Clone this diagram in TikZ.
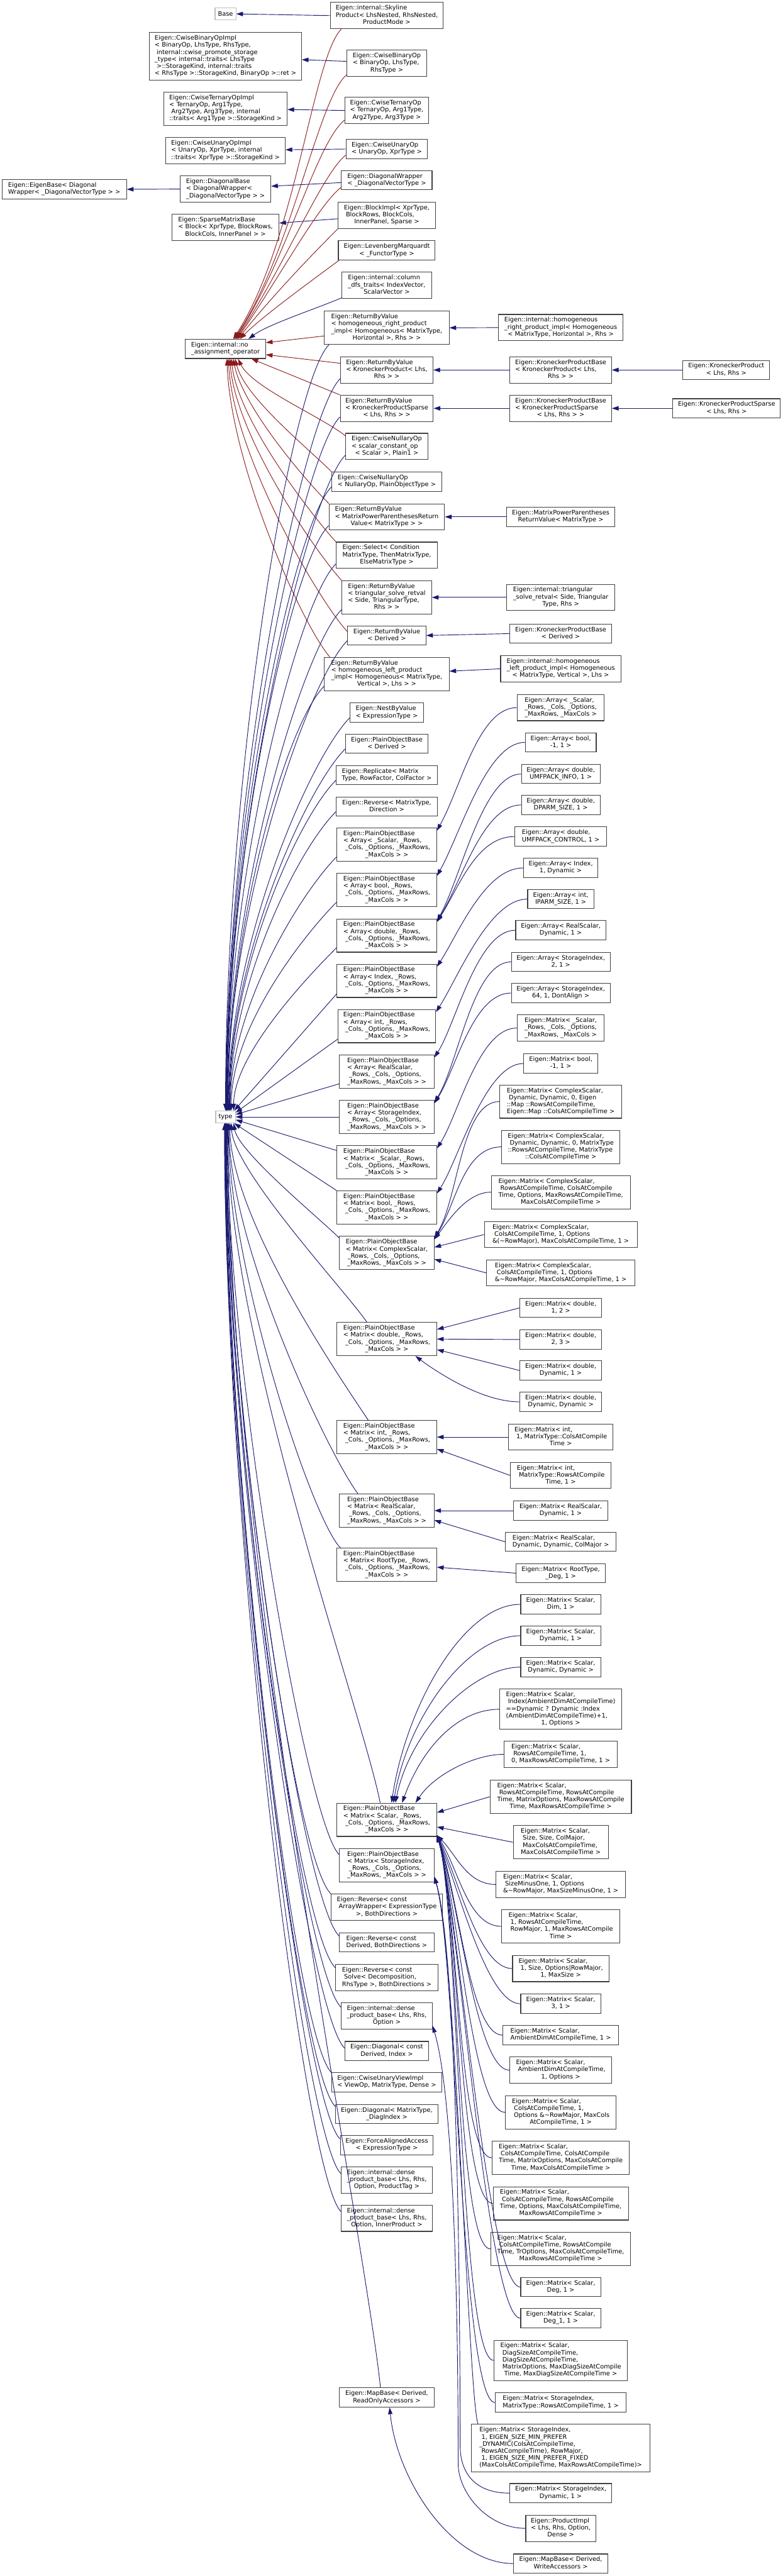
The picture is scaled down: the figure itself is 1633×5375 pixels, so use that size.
\documentclass[tikz,border=0pt]{standalone}
\usepackage{fontspec}
\setmainfont{DejaVu Sans}
\usetikzlibrary{arrows.meta,calc}
\definecolor{eblue}{HTML}{191970}
\definecolor{ered}{HTML}{8B1A1A}
\newcommand\lastc[1]{\multicolumn{1}{@{}c@{}}{#1}}
\newcommand\tbx[1]{\begin{tabular}{@{}l@{}}#1\end{tabular}}
\newcommand\pobA[1]{\tbx{Eigen::PlainObjectBase\\< #1, \_Rows,\\\ \_Cols, \_Options, \_MaxRows,\\\lastc{\_MaxCols > >}}}
\newcommand\pobB[1]{\tbx{Eigen::PlainObjectBase\\< #1,\\\ \_Rows, \_Cols, \_Options,\\\lastc{\_MaxRows, \_MaxCols > >}}}
\newcommand\TUp[4]{\draw[bl] (#1) .. controls +(-#2,#2) and +(0,-#3) .. ($(type.north)+(#4,0)$);}
\newcommand\TDn[4]{\draw[bl] (#1) .. controls +(-#2,-#2) and +(0,#3) .. ($(type.south)+(#4,0)$);}
\newcommand\CV[4]{\draw[bl] (#1) .. controls +(#3) and +(#4) .. (#2);}
\tikzset{
 box/.style={draw=black!75, line width=0.7pt, fill=white, inner xsep=3pt, inner ysep=2.65pt,
   font=\fontsize{6.45pt}{7.35pt}\selectfont},
 gbox/.style={draw=black!25, line width=0.7pt, fill=white, inner xsep=3pt, inner ysep=2.65pt,
   minimum height=12.5pt, font=\fontsize{6.45pt}{7.35pt}\selectfont},
 bw/.style={minimum width=#1*0.5pt},
 bl/.style={draw=eblue, line width=0.6pt, -{Triangle[length=7pt,width=4.6pt]}},
 rd/.style={draw=ered, line width=0.6pt, -{Triangle[length=7pt,width=4.6pt]}},
}
\begin{document}
\begin{tikzpicture}[x=0.5pt,y=-0.5pt]
\fill[white] (0,0) rectangle (1633,5375);
\useasboundingbox (0,0) rectangle (1633,5375);
\coordinate (lane) at (960,0);
% ---------- left column
\node[gbox] (base) at (470.5,29) {Base};
\node[box,bw=317] (cbimpl) at (470.5,117.5) {\tbx{Eigen::CwiseBinaryOpImpl\\< BinaryOp, LhsType, RhsType,\\\ internal::cwise\_promote\_storage\\\_type< internal::traits< LhsType\\\ >::StorageKind, internal::traits\\\lastc{< RhsType >::StorageKind, BinaryOp >::ret >}}};
\node[box,bw=257] (ctimpl) at (470.5,226.5) {\tbx{Eigen::CwiseTernaryOpImpl\\< TernaryOp, Arg1Type,\\\ Arg2Type, Arg3Type, internal\\\lastc{::traits< Arg1Type >::StorageKind >}}};
\node[box,bw=249] (cuimpl) at (470.5,314.5) {\tbx{Eigen::CwiseUnaryOpImpl\\< UnaryOp, XprType, internal\\\lastc{::traits< XprType >::StorageKind >}}};
\node[box,bw=260] (eigenbase) at (134,395) {\tbx{Eigen::EigenBase< Diagonal\\\lastc{Wrapper< \_DiagonalVectorType > >}}};
\node[box,bw=189] (diagbase) at (470.5,394.5) {\tbx{Eigen::DiagonalBase\\< DiagonalWrapper<\\\lastc{\_DiagonalVectorType > >}}};
\node[box,bw=223] (sparsebase) at (470.5,474.5) {\tbx{Eigen::SparseMatrixBase\\< Block< XprType, BlockRows,\\\lastc{BlockCols, InnerPanel > >}}};
\node[box,bw=167] (noassign) at (470.5,728) {\tbx{Eigen::internal::no\\\lastc{\_assignment\_operator}}};
\node[gbox] (type) at (470.5,2330.5) {type};
% ---------- middle column
\node[box,bw=236] (skyline) at (807,32.5) {\tbx{Eigen::internal::Skyline\\Product< LhsNested, RhsNested,\\\lastc{ProductMode >}}};
\node[box,bw=166] (cbop) at (807,132) {\tbx{Eigen::CwiseBinaryOp\\< BinaryOp, LhsType,\\\lastc{RhsType >}}};
\node[box,bw=175] (ctop) at (807,230.5) {\tbx{Eigen::CwiseTernaryOp\\< TernaryOp, Arg1Type,\\\lastc{Arg2Type, Arg3Type >}}};
\node[box,bw=170] (cuop) at (807,311) {\tbx{Eigen::CwiseUnaryOp\\\lastc{< UnaryOp, XprType >}}};
\node[box,bw=189] (diagwrap) at (807,376) {\tbx{Eigen::DiagonalWrapper\\\lastc{< \_DiagonalVectorType >}}};
\node[box,bw=203] (blockimpl) at (807,449.5) {\tbx{Eigen::BlockImpl< XprType,\\\ BlockRows, BlockCols,\\\lastc{InnerPanel, Sparse >}}};
\node[box,bw=202] (lm) at (807,522.5) {\tbx{Eigen::LevenbergMarquardt\\\lastc{< \_FunctorType >}}};
\node[box,bw=187] (coldfs) at (807,595.5) {\tbx{Eigen::internal::column\\\_dfs\_traits< IndexVector,\\\lastc{ScalarVector >}}};
\node[box,bw=260] (rbvhr) at (807,684) {\tbx{Eigen::ReturnByValue\\< homogeneous\_right\_product\\\_impl< Homogeneous< MatrixType,\\\lastc{Horizontal >, Rhs > >}}};
\node[box,bw=193] (rbvkp) at (807,772) {\tbx{Eigen::ReturnByValue\\< KroneckerProduct< Lhs,\\\lastc{Rhs > >}}};
\node[box,bw=194] (rbvkps) at (807,852) {\tbx{Eigen::ReturnByValue\\< KroneckerProductSparse\\\lastc{< Lhs, Rhs > >}}};
\node[box,bw=171] (cnos) at (807,931.5) {\tbx{Eigen::CwiseNullaryOp\\< scalar\_constant\_op\\\lastc{< Scalar >, Plain1 >}}};
\node[box,bw=229] (cnon) at (807,1005) {\tbx{Eigen::CwiseNullaryOp\\\lastc{< NullaryOp, PlainObjectType >}}};
\node[box,bw=241] (rbvmp) at (807,1078.5) {\tbx{Eigen::ReturnByValue\\< MatrixPowerParenthesesReturn\\\lastc{Value< MatrixType > >}}};
\node[box,bw=211] (select) at (807,1158.5) {\tbx{Eigen::Select< Condition\\MatrixType, ThenMatrixType,\\\lastc{ElseMatrixType >}}};
\node[box,bw=187] (rbvtri) at (807,1246.5) {\tbx{Eigen::ReturnByValue\\< triangular\_solve\_retval\\< Side, TriangularType,\\\lastc{Rhs > >}}};
\node[box,bw=163] (rbvd) at (807,1326) {\tbx{Eigen::ReturnByValue\\\lastc{< Derived >}}};
\node[box,bw=260] (rbvhl) at (807,1406.5) {\tbx{Eigen::ReturnByValue\\< homogeneous\_left\_product\\\_impl< Homogeneous< MatrixType,\\\lastc{Vertical >, Lhs > >}}};
\node[box,bw=153] (nest) at (807,1487) {\tbx{Eigen::NestByValue\\\lastc{< ExpressionType >}}};
\node[box,bw=172] (pobd) at (807,1552) {\tbx{Eigen::PlainObjectBase\\\lastc{< Derived >}}};
\node[box,bw=211] (replicate) at (807,1617.5) {\tbx{Eigen::Replicate< Matrix\\\lastc{Type, RowFactor, ColFactor >}}};
\node[box,bw=211] (reverse) at (807,1683) {\tbx{Eigen::Reverse< MatrixType,\\\lastc{Direction >}}};
\node[box,bw=208] (poba1) at (807,1762.5) {\pobA{Array< \_Scalar}};
\node[box,bw=208] (poba2) at (807,1857) {\pobA{Array< bool}};
\node[box,bw=208] (poba3) at (807,1952) {\pobA{Array< double}};
\node[box,bw=208] (poba4) at (807,2046.5) {\pobA{Array< Index}};
\node[box,bw=204] (poba5) at (807,2141) {\pobA{Array< int}};
\node[box,bw=197] (poba6) at (807,2236) {\pobB{Array< RealScalar}};
\node[box,bw=197] (poba7) at (807,2330.5) {\pobB{Array< StorageIndex}};
\node[box,bw=208] (pobm1) at (807,2425.5) {\pobA{Matrix< \_Scalar}};
\node[box,bw=208] (pobm2) at (807,2519.5) {\pobA{Matrix< bool}};
\node[box,bw=197] (pobm3) at (807,2614.5) {\pobB{Matrix< ComplexScalar}};
\node[box,bw=208] (pobm4) at (807,2794) {\pobA{Matrix< double}};
\node[box,bw=208] (pobm5) at (807,2998.5) {\pobA{Matrix< int}};
\node[box,bw=197] (pobm6) at (807,3152) {\pobB{Matrix< RealScalar}};
\node[box,bw=208] (pobm7) at (807,3265) {\pobA{Matrix< RootType}};
\node[box,bw=208] (pobm8) at (807,3797) {\pobA{Matrix< Scalar}};
\node[box,bw=197] (pobm9) at (807,3892) {\pobB{Matrix< StorageIndex}};
\node[box,bw=232] (revaw) at (807,3979.5) {\tbx{Eigen::Reverse< const\\\ ArrayWrapper< ExpressionType\\\lastc{>, BothDirections >}}};
\node[box,bw=197] (revd) at (807,4053) {\tbx{Eigen::Reverse< const\\\lastc{Derived, BothDirections >}}};
\node[box,bw=214] (revs) at (807,4126.5) {\tbx{Eigen::Reverse< const\\\ Solve< Decomposition,\\\lastc{RhsType >, BothDirections >}}};
\node[box,bw=190] (dpb1) at (807,4206) {\tbx{Eigen::internal::dense\\\_product\_base< Lhs, Rhs,\\\lastc{Option >}}};
\node[box,bw=175] (diag1) at (807,4279.5) {\tbx{Eigen::Diagonal< const\\\lastc{Derived, Index >}}};
\node[box,bw=230] (cuview) at (807,4345) {\tbx{Eigen::CwiseUnaryViewImpl\\\lastc{< ViewOp, MatrixType, Dense >}}};
\node[box,bw=214] (diag2) at (807,4411) {\tbx{Eigen::Diagonal< MatrixType,\\\lastc{\_DiagIndex >}}};
\node[box,bw=194] (faa) at (807,4476) {\tbx{Eigen::ForceAlignedAccess\\\lastc{< ExpressionType >}}};
\node[box,bw=190] (dpb2) at (807,4548.5) {\tbx{Eigen::internal::dense\\\_product\_base< Lhs, Rhs,\\\lastc{Option, ProductTag >}}};
\node[box,bw=190] (dpb3) at (807,4628.5) {\tbx{Eigen::internal::dense\\\_product\_base< Lhs, Rhs,\\\lastc{Option, InnerProduct >}}};
\node[box,bw=197] (mapro) at (807,5002.5) {\tbx{Eigen::MapBase< Derived,\\\lastc{ReadOnlyAccessors >}}};
% ---------- right columns
\node[box,bw=259] (hrpi) at (1170,683.5) {\tbx{Eigen::internal::homogeneous\\\_right\_product\_impl< Homogeneous\\\lastc{< MatrixType, Horizontal >, Rhs >}}};
\node[box,bw=212] (kpbkp) at (1170,772) {\tbx{Eigen::KroneckerProductBase\\< KroneckerProduct< Lhs,\\\lastc{Rhs > >}}};
\node[box,bw=181] (kp) at (1515.5,772) {\tbx{Eigen::KroneckerProduct\\\lastc{< Lhs, Rhs >}}};
\node[box,bw=212] (kpbkps) at (1170,852) {\tbx{Eigen::KroneckerProductBase\\< KroneckerProductSparse\\\lastc{< Lhs, Rhs > >}}};
\node[box,bw=224] (kps) at (1516,852) {\tbx{Eigen::KroneckerProductSparse\\\lastc{< Lhs, Rhs >}}};
\node[box,bw=226] (mpprv) at (1170,1078.5) {\tbx{Eigen::MatrixPowerParentheses\\\lastc{ReturnValue< MatrixType >}}};
\node[box,bw=225] (tsr) at (1170,1246.5) {\tbx{Eigen::internal::triangular\\\_solve\_retval< Side, Triangular\\\lastc{Type, Rhs >}}};
\node[box,bw=212] (kpbd) at (1170,1322) {\tbx{Eigen::KroneckerProductBase\\\lastc{< Derived >}}};
\node[box,bw=251] (hlpi) at (1170,1395.5) {\tbx{Eigen::internal::homogeneous\\\_left\_product\_impl< Homogeneous\\\lastc{< MatrixType, Vertical >, Lhs >}}};
\node[box,bw=182] (arr1) at (1170,1476.5) {\tbx{Eigen::Array< \_Scalar,\\\_Rows, \_Cols, \_Options,\\\lastc{\_MaxRows, \_MaxCols >}}};
\node[box,bw=148] (arr2) at (1170,1549) {\tbx{Eigen::Array< bool,\\\lastc{-1, 1 >}}};
\node[box,bw=164] (arr3) at (1170,1615) {\tbx{Eigen::Array< double,\\\lastc{UMFPACK\_INFO, 1 >}}};
\node[box,bw=164] (arr4) at (1170,1679.5) {\tbx{Eigen::Array< double,\\\lastc{DPARM\_SIZE, 1 >}}};
\node[box,bw=192] (arr5) at (1170,1745.5) {\tbx{Eigen::Array< double,\\\lastc{UMFPACK\_CONTROL, 1 >}}};
\node[box,bw=155] (arr6) at (1170,1811) {\tbx{Eigen::Array< Index,\\\lastc{1, Dynamic >}}};
\node[box,bw=138] (arr7) at (1170,1876) {\tbx{Eigen::Array< int,\\\lastc{IPARM\_SIZE, 1 >}}};
\node[box,bw=188] (arr8) at (1170,1941) {\tbx{Eigen::Array< RealScalar,\\\lastc{Dynamic, 1 >}}};
\node[box,bw=206] (arr9) at (1170,2007) {\tbx{Eigen::Array< StorageIndex,\\\lastc{2, 1 >}}};
\node[box,bw=206] (arr10) at (1170,2072) {\tbx{Eigen::Array< StorageIndex,\\\lastc{64, 1, DontAlign >}}};
\node[box,bw=182] (mat1) at (1170,2145) {\tbx{Eigen::Matrix< \_Scalar,\\\_Rows, \_Cols, \_Options,\\\lastc{\_MaxRows, \_MaxCols >}}};
\node[box,bw=154] (mat2) at (1170,2219) {\tbx{Eigen::Matrix< bool,\\\lastc{-1, 1 >}}};
\node[box,bw=255] (mat3) at (1170,2298.5) {\tbx{Eigen::Matrix< ComplexScalar,\\\ Dynamic, Dynamic, 0, Eigen\\::Map ::RowsAtCompileTime,\\\lastc{Eigen::Map ::ColsAtCompileTime >}}};
\node[box,bw=246] (mat4) at (1170,2393) {\tbx{Eigen::Matrix< ComplexScalar,\\\ Dynamic, Dynamic, 0, MatrixType\\::RowsAtCompileTime, MatrixType\\\lastc{::ColsAtCompileTime >}}};
\node[box,bw=290] (mat5) at (1170,2487.5) {\tbx{Eigen::Matrix< ComplexScalar,\\\ RowsAtCompileTime, ColsAtCompile\\Time, Options, MaxRowsAtCompileTime,\\\lastc{MaxColsAtCompileTime >}}};
\node[box,bw=319] (mat6) at (1170,2576) {\tbx{Eigen::Matrix< ComplexScalar,\\\ ColsAtCompileTime, 1, Options\\\lastc{\&(\textasciitilde RowMajor), MaxColsAtCompileTime, 1 >}}};
\node[box,bw=309] (mat7) at (1170,2656) {\tbx{Eigen::Matrix< ComplexScalar,\\\ ColsAtCompileTime, 1, Options\\\lastc{\&\textasciitilde RowMajor, MaxColsAtCompileTime, 1 >}}};
\node[box,bw=171] (mat8) at (1170,2729) {\tbx{Eigen::Matrix< double,\\\lastc{1, 2 >}}};
\node[box,bw=171] (mat9) at (1170,2795) {\tbx{Eigen::Matrix< double,\\\lastc{2, 3 >}}};
\node[box,bw=171] (mat10) at (1170,2859.5) {\tbx{Eigen::Matrix< double,\\\lastc{Dynamic, 1 >}}};
\node[box,bw=171] (mat11) at (1170,2925) {\tbx{Eigen::Matrix< double,\\\lastc{Dynamic, Dynamic >}}};
\node[box,bw=218] (mat12) at (1170,2998.5) {\tbx{Eigen::Matrix< int,\\\ 1, MatrixType::ColsAtCompile\\\lastc{Time >}}};
\node[box,bw=210] (mat13) at (1170,3078.5) {\tbx{Eigen::Matrix< int,\\\ MatrixType::RowsAtCompile\\\lastc{Time, 1 >}}};
\node[box,bw=196] (mat14) at (1170,3152) {\tbx{Eigen::Matrix< RealScalar,\\\lastc{Dynamic, 1 >}}};
\node[box,bw=231] (mat15) at (1170,3217) {\tbx{Eigen::Matrix< RealScalar,\\\lastc{Dynamic, Dynamic, ColMajor >}}};
\node[box,bw=186] (mat16) at (1170,3282.5) {\tbx{Eigen::Matrix< RootType,\\\lastc{\_Deg, 1 >}}};
\node[box,bw=167] (mat17) at (1170,3347.5) {\tbx{Eigen::Matrix< Scalar,\\\lastc{Dim, 1 >}}};
\node[box,bw=167] (mat18) at (1170,3413) {\tbx{Eigen::Matrix< Scalar,\\\lastc{Dynamic, 1 >}}};
\node[box,bw=167] (mat19) at (1170,3478.5) {\tbx{Eigen::Matrix< Scalar,\\\lastc{Dynamic, Dynamic >}}};
\node[box,bw=255] (mat20) at (1170,3566.5) {\tbx{Eigen::Matrix< Scalar,\\\ Index(AmbientDimAtCompileTime)\\==Dynamic ? Dynamic :Index\\(AmbientDimAtCompileTime)+1,\\\lastc{1, Options >}}};
\node[box,bw=237] (mat21) at (1170,3660.5) {\tbx{Eigen::Matrix< Scalar,\\\ RowsAtCompileTime, 1,\\\lastc{0, MaxRowsAtCompileTime, 1 >}}};
\node[box,bw=295] (mat22) at (1170,3749) {\tbx{Eigen::Matrix< Scalar,\\\ RowsAtCompileTime, RowsAtCompile\\Time, MatrixOptions, MaxRowsAtCompile\\\lastc{Time, MaxRowsAtCompileTime >}}};
\node[box,bw=198] (mat23) at (1170,3844) {\tbx{Eigen::Matrix< Scalar,\\\ Size, Size, ColMajor,\\\ MaxColsAtCompileTime,\\\lastc{MaxColsAtCompileTime >}}};
\node[box,bw=270] (mat24) at (1170,3932) {\tbx{Eigen::Matrix< Scalar,\\\ SizeMinusOne, 1, Options\\\lastc{\&\textasciitilde RowMajor, MaxSizeMinusOne, 1 >}}};
\node[box,bw=246] (mat25) at (1170,4019.5) {\tbx{Eigen::Matrix< Scalar,\\\ 1, RowsAtCompileTime,\\\ RowMajor, 1, MaxRowsAtCompile\\\lastc{Time >}}};
\node[box,bw=201] (mat26) at (1170,4107.5) {\tbx{Eigen::Matrix< Scalar,\\\ 1, Size, Options|RowMajor,\\\lastc{1, MaxSize >}}};
\node[box,bw=167] (mat27) at (1170,4181) {\tbx{Eigen::Matrix< Scalar,\\\lastc{3, 1 >}}};
\node[box,bw=241] (mat28) at (1170,4246.5) {\tbx{Eigen::Matrix< Scalar,\\\lastc{AmbientDimAtCompileTime, 1 >}}};
\node[box,bw=213] (mat29) at (1170,4319.5) {\tbx{Eigen::Matrix< Scalar,\\\ AmbientDimAtCompileTime,\\\lastc{1, Options >}}};
\node[box,bw=231] (mat30) at (1170,4407.5) {\tbx{Eigen::Matrix< Scalar,\\\ ColsAtCompileTime, 1,\\\ Options \&\textasciitilde RowMajor, MaxCols\\\lastc{AtCompileTime, 1 >}}};
\node[box,bw=286] (mat31) at (1170,4502.5) {\tbx{Eigen::Matrix< Scalar,\\\ ColsAtCompileTime, ColsAtCompile\\Time, MatrixOptions, MaxColsAtCompile\\\lastc{Time, MaxColsAtCompileTime >}}};
\node[box,bw=282] (mat32) at (1170,4597.5) {\tbx{Eigen::Matrix< Scalar,\\\ ColsAtCompileTime, RowsAtCompile\\Time, Options, MaxColsAtCompileTime,\\\lastc{MaxRowsAtCompileTime >}}};
\node[box,bw=292] (mat33) at (1170,4692.5) {\tbx{Eigen::Matrix< Scalar,\\\ ColsAtCompileTime, RowsAtCompile\\Time, TrOptions, MaxColsAtCompileTime,\\\lastc{MaxRowsAtCompileTime >}}};
\node[box,bw=167] (mat34) at (1170,4772) {\tbx{Eigen::Matrix< Scalar,\\\lastc{Deg, 1 >}}};
\node[box,bw=167] (mat35) at (1170,4837) {\tbx{Eigen::Matrix< Scalar,\\\lastc{Deg\_1, 1 >}}};
\node[box,bw=279] (mat36) at (1170,4925) {\tbx{Eigen::Matrix< Scalar,\\\ DiagSizeAtCompileTime,\\\ DiagSizeAtCompileTime,\\\ MatrixOptions, MaxDiagSizeAtCompile\\\lastc{Time, MaxDiagSizeAtCompileTime >}}};
\node[box,bw=273] (mat37) at (1170,5013) {\tbx{Eigen::Matrix< StorageIndex,\\\lastc{MatrixType::RowsAtCompileTime, 1 >}}};
\node[box,bw=372] (mat38) at (1170,5108) {\tbx{Eigen::Matrix< StorageIndex,\\\ 1, EIGEN\_SIZE\_MIN\_PREFER\\\_DYNAMIC(ColsAtCompileTime,\\\ RowsAtCompileTime), RowMajor,\\\ 1, EIGEN\_SIZE\_MIN\_PREFER\_FIXED\\\lastc{(MaxColsAtCompileTime, MaxRowsAtCompileTime)>}}};
\node[box,bw=213] (mat39) at (1170,5202) {\tbx{Eigen::Matrix< StorageIndex,\\\lastc{Dynamic, 1 >}}};
\node[box,bw=146] (prodimpl) at (1170,5275.5) {\tbx{Eigen::ProductImpl\\< Lhs, Rhs, Option,\\\lastc{Dense >}}};
\node[box,bw=196] (mapw) at (1170,5349) {\tbx{Eigen::MapBase< Derived,\\\lastc{WriteAccessors >}}};
% ---------- edges: top left
\draw[bl] (skyline.west) -- (base.east);
\draw[bl] ($(cbop.west)+(0,-4)$) -- ($(cbimpl.east)+(0,7)$);
\draw[bl] (ctop.west) -- ($(ctimpl.east)+(0,2)$);
\draw[bl] (cuop.west) -- ($(cuimpl.east)+(0,-2)$);
\draw[bl] ($(diagwrap.west)+(0,5)$) -- ($(diagbase.east)+(0,-6)$);
\draw[bl] ($(blockimpl.west)+(0,7)$) -- ($(sparsebase.east)+(0,-9)$);
\draw[bl] (diagbase.west) -- (eigenbase.east);
\draw[bl] ($(coldfs.south west)+(0,-2)$) .. controls +(-60,25) and +(40,-30) .. ($(noassign.north)+(48,0)$);
% red to no_assignment_operator
\draw[rd] ($(skyline.south west)+(24,0)$) .. controls +(-60,60) and +(130,-200) .. ($(noassign.north)+(16,0)$);
\draw[rd] ($(cbop.south west)+(0,-4)$) .. controls +(-60,50) and +(120,-180) .. ($(noassign.north)+(18,0)$);
\draw[rd] ($(ctop.south west)+(0,-8)$) .. controls +(-60,50) and +(110,-170) .. ($(noassign.north)+(20,0)$);
\draw[rd] ($(cuop.south west)+(0,-8)$) .. controls +(-50,40) and +(100,-150) .. ($(noassign.north)+(22,0)$);
\draw[rd] ($(diagwrap.south west)+(0,-6)$) .. controls +(-50,40) and +(90,-130) .. ($(noassign.north)+(24,0)$);
\draw[rd] (blockimpl.south west) .. controls +(-40,40) and +(80,-100) .. ($(noassign.north)+(26,0)$);
\draw[rd] ($(lm.south west)+(2,0)$) .. controls +(-40,30) and +(50,-50) .. ($(noassign.north)+(30,0)$);
\draw[rd] ($(rbvhr.west)+(0,17)$) -- ($(noassign.east)+(0,-13)$);
\draw[rd] ($(rbvkp.west)+(0,-14)$) -- ($(noassign.east)+(0,12)$);
\draw[rd] (rbvkps.north west) -- ($(noassign.south east)+(-30,0)$);
\draw[rd] ($(cnos.north west)+(0,6)$) .. controls +(-50,-40) and +(30,60) .. ($(noassign.south)+(26,0)$);
\draw[rd] (cnon.north west) .. controls +(-50,-50) and +(20,80) .. ($(noassign.south)+(20,0)$);
\draw[rd] (rbvmp.north west) .. controls +(-50,-50) and +(20,100) .. ($(noassign.south)+(16,0)$);
\draw[rd] (select.north west) .. controls +(-50,-55) and +(15,130) .. ($(noassign.south)+(12,0)$);
\draw[rd] (rbvtri.north west) .. controls +(-55,-60) and +(12,160) .. ($(noassign.south)+(9,0)$);
\draw[rd] ($(rbvd.west)+(0,-8)$) .. controls +(-60,-65) and +(10,200) .. ($(noassign.south)+(6,0)$);
\draw[rd] ($(rbvhl.north west)+(12,0)$) .. controls +(-60,-70) and +(8,220) .. ($(noassign.south)+(3,0)$);
% blue to type (from above)
\TUp{$(rbvhr.south west)+(10,0)$}{80}{700}{0}
\TUp{$(rbvkp.south west)+(0,-10)$}{80}{660}{1}
\TUp{$(rbvkps.south west)+(0,-10)$}{80}{620}{1}
\TUp{$(cnos.south west)+(0,-10)$}{80}{590}{2}
\TUp{$(cnon.south west)+(0,-10)$}{80}{560}{2}
\TUp{$(rbvmp.south west)+(0,-10)$}{80}{530}{3}
\TUp{$(select.south west)+(0,-10)$}{80}{490}{3}
\TUp{$(rbvtri.south west)+(0,-10)$}{80}{450}{4}
\TUp{$(rbvd.south west)+(0,-10)$}{80}{420}{4}
\TUp{$(rbvhl.south west)+(0,-10)$}{80}{380}{5}
\TUp{$(nest.south west)+(0,-10)$}{80}{350}{6}
\TUp{$(pobd.south west)+(0,-10)$}{80}{320}{7}
\TUp{$(replicate.south west)+(0,-10)$}{80}{290}{8}
\TUp{$(reverse.south west)+(0,-10)$}{80}{260}{9}
\TUp{$(poba1.south west)+(0,-10)$}{70}{220}{10}
\TUp{$(poba2.south west)+(0,-10)$}{60}{180}{12}
\TUp{$(poba3.south west)+(0,-10)$}{50}{120}{17}
\draw[bl] ($(poba4.south west)+(0,-8)$) -- ($(type.north east)+(-3,0)$);
\draw[bl] ($(poba5.south west)+(0,-8)$) -- ($(type.east)+(0,-9)$);
\draw[bl] ($(poba6.south west)+(0,-10)$) -- ($(type.east)+(0,-5)$);
\draw[bl] (poba7.west) -- (type.east);
% blue to type (from below)
\draw[bl] ($(pobm1.west)+(0,-25)$) -- ($(type.east)+(0,6)$);
\draw[bl] (pobm2.north west) -- ($(type.south east)+(-3,0)$);
\draw[bl] ($(pobm3.north west)+(0,4)$) .. controls +(-40,-40) and +(10,60) .. ($(type.south)+(17,0)$);
\draw[bl] ($(pobm4.north west)+(63,0)$) .. controls +(-40,-60) and +(5,100) .. ($(type.south)+(12,0)$);
\draw[bl] ($(pobm5.north west)+(66,0)$) .. controls +(-60,-90) and +(3,200) .. ($(type.south)+(9,0)$);
\draw[bl] ($(pobm6.north west)+(39,0)$) .. controls +(-60,-80) and +(2,260) .. ($(type.south)+(7,0)$);
\draw[bl] ($(pobm7.north west)+(8,0)$) .. controls +(-60,-60) and +(1,300) .. ($(type.south)+(6,0)$);
\draw[bl] ($(pobm8.north west)+(91,0)$) .. controls +(-40,-200) and +(0,450) .. ($(type.south)+(4,0)$);
\TDn{$(pobm9.west)+(0,-22)$}{70}{500}{3}
\TDn{revaw.north west}{80}{540}{2}
\TDn{$(revd.west)+(0,-13)$}{80}{580}{2}
\TDn{$(revs.west)+(0,-21)$}{80}{620}{1}
\TDn{$(dpb1.west)+(0,-18)$}{80}{650}{1}
\TDn{$(diag1.west)+(0,-6)$}{80}{680}{0}
\TDn{cuview.north west}{80}{700}{0}
\TDn{$(diag2.west)+(0,-16)$}{80}{730}{-1}
\TDn{$(faa.west)+(0,-13)$}{80}{760}{-1}
\TDn{$(dpb2.west)+(0,-13)$}{80}{790}{-2}
\TDn{$(dpb3.west)+(0,-14)$}{80}{820}{-2}
\draw[bl] ($(mapro.north west)+(86,0)$) .. controls +(-30,-300) and +(0,900) .. ($(type.south)+(5,0)$);
% right side straight
\draw[bl] (hrpi.west) -- (rbvhr.east);
\draw[bl] (kpbkp.west) -- (rbvkp.east);
\draw[bl] (kp.west) -- (kpbkp.east);
\draw[bl] (kpbkps.west) -- (rbvkps.east);
\draw[bl] (kps.west) -- (kpbkps.east);
\draw[bl] (mpprv.west) -- (rbvmp.east);
\draw[bl] (tsr.west) -- (rbvtri.east);
\draw[bl] (kpbd.west) -- (rbvd.east);
\draw[bl] (hlpi.west) -- ($(rbvhl.east)+(0,-6)$);
% arrays
\CV{arr1.west}{$(poba1.north east)+(0,6)$}{-80,0}{50,-90}
\CV{arr2.west}{$(poba2.north east)+(0,6)$}{-80,0}{50,-90}
\CV{arr3.west}{$(poba3.north east)+(0,5)$}{-80,0}{50,-90}
\CV{arr4.west}{$(poba3.north east)+(0,6)$}{-80,0}{50,-80}
\CV{arr5.west}{$(poba3.north east)+(0,7)$}{-80,0}{45,-70}
\CV{arr6.west}{$(poba4.north east)+(0,6)$}{-80,0}{45,-70}
\CV{arr7.west}{$(poba5.north east)+(0,6)$}{-80,0}{45,-70}
\CV{arr8.west}{$(poba6.north east)+(0,6)$}{-80,0}{45,-70}
\CV{arr9.west}{$(poba7.north east)+(0,5)$}{-80,0}{50,-80}
\CV{arr10.west}{$(poba7.north east)+(0,7)$}{-80,0}{45,-70}
% matrices
\CV{mat1.west}{$(pobm1.north east)+(0,6)$}{-80,0}{45,-70}
\CV{mat2.west}{$(pobm2.north east)+(0,6)$}{-80,0}{45,-70}
\CV{mat3.west}{$(pobm3.north east)+(0,3)$}{-80,0}{50,-80}
\CV{mat4.west}{$(pobm3.north east)+(0,5)$}{-80,0}{45,-70}
\CV{mat5.west}{$(pobm3.north east)+(0,7)$}{-50,0}{30,-40}
\draw[bl] (mat6.west) -- ($(pobm3.east)+(0,-12)$);
\draw[bl] (mat7.west) -- ($(pobm3.east)+(0,13)$);
\draw[bl] (mat8.west) -- ($(pobm4.east)+(0,-20)$);
\draw[bl] (mat9.west) -- (pobm4.east);
\draw[bl] (mat10.west) -- ($(pobm4.east)+(0,22)$);
\CV{mat11.west}{$(pobm4.south east)+(-45,0)$}{-80,0}{40,30}
\draw[bl] (mat12.west) -- (pobm5.east);
\draw[bl] (mat13.west) -- ($(pobm5.east)+(0,25)$);
\draw[bl] (mat14.west) -- (pobm6.east);
\draw[bl] (mat15.west) -- ($(pobm6.east)+(0,20)$);
\draw[bl] (mat16.west) -- ($(pobm7.east)+(0,5)$);
\CV{mat17.west}{$(pobm8.north)+(10,0)$}{-120,0}{30,-200}
\CV{mat18.west}{$(pobm8.north)+(14,0)$}{-110,0}{30,-180}
\CV{mat19.west}{$(pobm8.north)+(18,0)$}{-100,0}{30,-150}
\CV{mat20.west}{$(pobm8.north)+(32,0)$}{-90,0}{40,-110}
\CV{mat21.west}{$(pobm8.north)+(60,0)$}{-60,0}{40,-60}
\draw[bl] (mat22.west) -- ($(pobm8.east)+(0,-15)$);
\draw[bl] (mat23.west) -- ($(pobm8.east)+(0,15)$);
\CV{mat24.west}{$(pobm8.south east)+(0,-3)$}{-60,0}{40,40}
\CV{mat25.west}{$(pobm8.south east)+(0,-3)$}{-70,0}{45,70}
\CV{mat26.west}{$(pobm8.south east)+(0,-3)$}{-70,0}{45,90}
\CV{mat27.west}{$(pobm8.south east)+(0,-3)$}{-70,0}{45,110}
\CV{mat28.west}{$(pobm8.south east)+(0,-3)$}{-70,0}{45,120}
\CV{mat29.west}{$(pobm8.south east)+(0,-3)$}{-70,0}{45,130}
\CV{mat30.west}{$(pobm8.south east)+(0,-3)$}{-70,0}{45,140}
\CV{mat31.west}{$(pobm8.south east)+(0,-3)$}{-70,0}{45,150}
\CV{mat32.west}{$(pobm8.south east)+(0,-3)$}{-70,0}{45,150}
\CV{mat33.west}{$(pobm8.south east)+(0,-3)$}{-70,0}{45,150}
\CV{mat34.west}{$(pobm8.south east)+(0,-3)$}{-70,0}{45,150}
\CV{mat35.west}{$(pobm8.south east)+(0,-3)$}{-70,0}{45,150}
\CV{mat36.west}{$(pobm8.south east)+(0,-3)$}{-70,0}{45,150}
\CV{mat37.west}{$(pobm9.east)+(0,24)$}{-70,0}{45,150}
\CV{$(mat38.north west)+(14,0)$}{$(pobm9.east)+(0,24)$}{-20,-60}{45,150}
\draw[bl] (mat39.west) .. controls +(-70,0) and +(0,60) .. ($(mat39.west -| lane)+(0,-100)$) .. controls +(0,-400) and +(45,150) .. ($(pobm9.east)+(0,24)$);
\draw[bl] (prodimpl.west) .. controls +(-80,0) and +(0,60) .. ($(prodimpl.west -| lane)+(-4,-135)$) .. controls +(0,-300) and +(45,150) .. ($(dpb1.east)+(0,21)$);
\CV{mapw.west}{$(mapro.south)+(6,0)$}{-130,0}{15,150}
\end{tikzpicture}
\end{document}
